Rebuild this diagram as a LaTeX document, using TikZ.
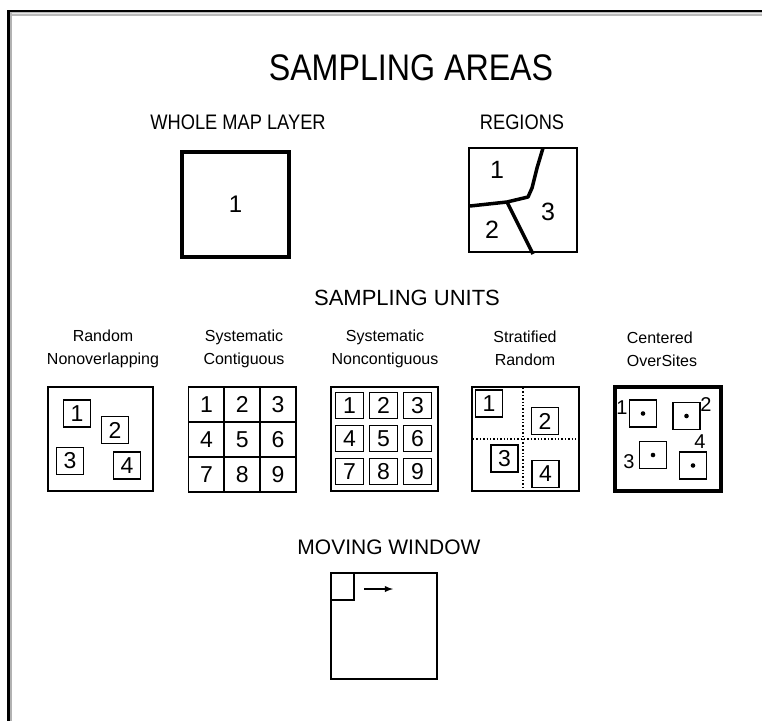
\documentclass[tikz,border=0pt]{standalone}
\usepackage{fontspec}
\setmainfont{Liberation Sans}
\newfontfamily\headfont[FakeStretch=0.87]{Liberation Sans}
\usetikzlibrary{arrows}

\tikzset{
  area/.style={draw, line width=1.8pt, inner sep=0pt, font=\fontsize{24}{24}\selectfont},
  unit/.style={draw, line width=1.6pt, inner sep=0pt, minimum width=27pt, minimum height=27pt, font=\fontsize{23}{23}\selectfont},
  caption/.style={align=center, font=\fontsize{16}{23}\selectfont},
  heading/.style={font=\headfont\fontsize{21}{21}\selectfont},
}

\begin{document}
\begin{tikzpicture}[x=1pt,y=-1pt]
\useasboundingbox (0,0) rectangle (762,721);
% window frame
\fill[gray!55] (9.5,11.5) rectangle (762,15.5);
\draw[gray!20, line width=1pt] (9.5,13.5) -- (762,13.5);
\fill[gray!60] (9.5,11.5) rectangle (12,721);
\fill[black] (7,10) rectangle (762,11.5);
\fill[black] (7,10) rectangle (9.5,721);

\node[font=\headfont\fontsize{37}{37}\selectfont] (title) at (411,68) {SAMPLING AREAS};

% whole map layer and regions
\node[heading] (wholecap) at (238,122) {WHOLE MAP LAYER};
\node[heading] (regcap) at (522,122) {REGIONS};
\node[area, line width=4pt, minimum width=107pt, minimum height=105pt] (map) at (235.5,204.5) {1};
\node[area, minimum width=108pt, minimum height=104pt] (reg) at (523,200) {};
\draw[line width=3.5pt, line join=round] (543,148) -- (537,168) -- (532,188) -- (528,197) -- (507,202) -- (470,206);
\draw[line width=3.5pt] (507,202) -- (533,254);
\foreach \n/\x/\y in {1/497/170, 2/492/230, 3/548/212}
  \node[font=\fontsize{25}{25}\selectfont] (reg\n) at (\x,\y) {\n};

\node[font=\fontsize{22}{22}\selectfont] (unitcap) at (407,298) {SAMPLING UNITS};

% random nonoverlapping
\node[caption] (randcap) at (103,348.5) {Random\\Nonoverlapping};
\node[area, minimum width=105pt, minimum height=104pt] (rand) at (100.5,439) {};
\foreach \n/\x/\y in {1/77/413.5, 2/115/430, 3/70/461, 4/127/465.5}
  \node[unit] (rand\n) at (\x,\y) {\n};

% systematic contiguous
\node[caption] (contcap) at (244,348.5) {Systematic\\Contiguous};
\foreach \n in {1,...,9} {
  \pgfmathtruncatemacro\col{mod(\n-1,3)}
  \pgfmathtruncatemacro\row{div(\n-1,3)}
  \node[unit, minimum width=36pt, minimum height=35pt] (cont\n) at (206.5+\col*35.7, 404.5+\row*35) {\n};
}

% systematic noncontiguous
\node[caption] (noncap) at (385,348.5) {Systematic\\Noncontiguous};
\node[area, minimum width=107pt, minimum height=104pt] (non) at (384.5,439) {};
\foreach \n in {1,...,9} {
  \pgfmathtruncatemacro\col{mod(\n-1,3)}
  \pgfmathtruncatemacro\row{div(\n-1,3)}
  \node[unit, minimum width=28pt, minimum height=26pt] (non\n) at (349.5+\col*34, 405.5+\row*33) {\n};
}

% stratified random
\node[caption] (stratcap) at (525,348.5) {Stratified\\Random};
\node[area, minimum width=107pt, minimum height=104pt] (strat) at (525.5,439) {};
\draw[dotted, line width=1.4pt] (523,388) -- (523,490);
\draw[dotted, line width=1.4pt] (473,439) -- (578,439);
\foreach \n/\x/\y in {1/489/403.5, 2/545/421, 3/504.5/458.5, 4/545.5/474}
  \node[unit, fill=white] (strat\n) at (\x,\y) {\n};

% centered over sites
\node[caption, align=left] (centcap) at (662,349) {Centered\\OverSites};
\node[area, line width=4pt, minimum width=106pt, minimum height=104pt] (cent) at (668,439) {};
\foreach \n/\x/\y/\lx/\ly in {1/643/413.5/622/408, 2/686.5/416/706/405, 3/653/455/629/462, 4/693/465.5/700/442} {
  \node[unit] (cent\n) at (\x,\y) {};
  \fill (cent\n.center) circle (2.3pt);
  \node[font=\fontsize{20}{20}\selectfont] (site\n) at (\lx,\ly) {\n};
}

% moving window
\node[font=\fontsize{21}{21}\selectfont] (movcap) at (389,547) {MOVING WINDOW};
\node[area, minimum width=106pt, minimum height=106pt] (mov) at (384,626) {};
\node[area, minimum width=23pt, minimum height=27pt, anchor=north west] (win) at (mov.north west) {};
\coordinate (wstart) at (364,589);
\coordinate (wend) at (393,589);
\draw[-latex, line width=1.8pt] (wstart) -- (wend);
\end{tikzpicture}
\end{document}
